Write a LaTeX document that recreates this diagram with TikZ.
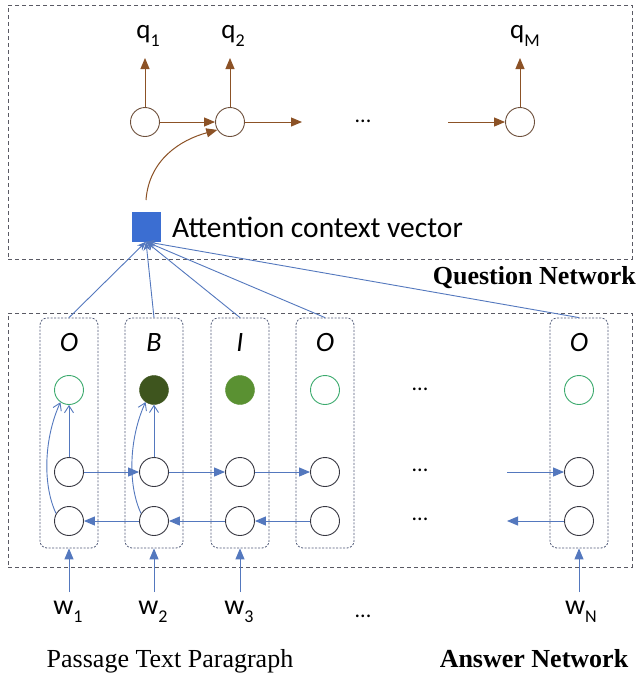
\documentclass[tikz,border=0pt]{standalone}
\usepackage{fontspec}
\setmainfont{Carlito}
\newfontfamily\tnr{Liberation Serif}
\usetikzlibrary{arrows.meta}
\definecolor{brownarr}{RGB}{140,82,38}
\definecolor{qcirc}{RGB}{110,80,60}
\definecolor{blueline}{RGB}{84,120,190}
\definecolor{bluesq}{RGB}{59,110,210}
\definecolor{greenring}{RGB}{60,170,110}
\definecolor{darkgreen}{RGB}{62,85,30}
\definecolor{midgreen}{RGB}{90,145,50}
\definecolor{hidgray}{RGB}{55,55,65}
\definecolor{dashgray}{RGB}{90,90,100}
\definecolor{colboxc}{RGB}{80,90,120}
\newcommand\mysub[1]{\raisebox{-0.3em}{\fontsize{18}{18}\selectfont #1}}
\begin{document}
\begin{tikzpicture}[x=1pt,y=-1pt,
  bigbox/.style={draw=dashgray, line width=0.9pt, dash pattern=on 4pt off 3pt, inner sep=0},
  colbox/.style={draw=colboxc, rounded corners=7pt, dash pattern=on 2pt off 1.5pt, line width=0.8pt, minimum width=58pt, minimum height=230pt, inner sep=0},
  qcell/.style={circle, draw=qcirc, line width=0.9pt, minimum size=29pt, inner sep=0},
  hcell/.style={circle, draw=hidgray, line width=0.9pt, minimum size=29pt, inner sep=0},
  ocell/.style={circle, draw=greenring, line width=0.9pt, minimum size=29pt, inner sep=0},
  barr/.style={draw=brownarr, line width=1pt, -{Triangle[length=11pt,width=9pt]}},
  harr/.style={draw=blueline, line width=1pt, -{Triangle[length=11pt,width=9pt]}},
  varr/.style={draw=blueline, line width=0.9pt, -{Straight Barb[length=7pt,width=9pt]}},
  attn/.style={draw=blueline, line width=0.9pt, -{Stealth[length=9pt,width=7pt]}},
  lbl/.style={font=\fontsize{27}{30}\selectfont, inner sep=0},
  tag/.style={font=\fontsize{28}{30}\selectfont\itshape, inner sep=0},
  dots/.style={font=\fontsize{22}{24}\selectfont, inner sep=0},
  captxt/.style={font=\tnr\fontsize{26}{28}\selectfont, inner sep=0},
  boldtxt/.style={font=\tnr\bfseries\fontsize{26}{28}\selectfont, inner sep=0}
]
\useasboundingbox (0,0) rectangle (644,673);
\fill[white] (0,0) rectangle (644,673);

% big dashed boxes
\node[bigbox, minimum width=624pt, minimum height=254pt] (qbox) at (320,132) {};
\node[bigbox, minimum width=624pt, minimum height=254pt] (abox) at (320,440) {};
\node[boldtxt, anchor=east] (qnet) at (636,278) {Question Network};

% question decoder
\node[qcell] (q1c) at (145,122) {};
\node[qcell] (q2c) at (230,122) {};
\node[qcell] (qMc) at (520,122) {};
\coordinate (t1) at (145,58);
\coordinate (t2) at (230,58);
\coordinate (tM) at (520,58);
\node[lbl] (q1) at (148,36) {q\mysub{1}};
\node[lbl] (q2) at (233,36) {q\mysub{2}};
\node[lbl] (qM) at (525,36) {q\mysub{M}};
\draw[barr] (q1c.north) -- (t1);
\draw[barr] (q2c.north) -- (t2);
\draw[barr] (qMc.north) -- (tM);
\draw[barr] (q1c.east) -- (q2c.west);
\coordinate (q2out) at (302,122);
\draw[barr] (q2c.east) -- (q2out);
\node[dots] (qdots) at (363,121) {...};
\coordinate (qMin) at (448,122);
\draw[barr] (qMin) -- (qMc.west);

% attention vector
\node[draw=bluesq, fill=bluesq, minimum width=28pt, minimum height=29pt, inner sep=0] (sq) at (146,227) {};
\node[font=\fontsize{29.5}{32}\selectfont, anchor=west, inner sep=0] (att) at (172,227) {Attention context vector};
\coordinate (s0) at (146,200);
\draw[barr] (s0) .. controls (149,160) and (180,140) .. (q2c.212);

% answer network columns
\foreach \i/\x in {1/69,2/154,3/240,4/325,5/579}{
  \node[colbox] (k\i) at (\x,433) {};
  \node[hcell] (f\i) at (\x,472) {};
  \node[hcell] (b\i) at (\x,521) {};
}
\node[tag] (tg1) at (69,343) {O};
\node[tag] (tg2) at (154,343) {B};
\node[tag] (tg3) at (240,343) {I};
\node[tag] (tg4) at (325,343) {O};
\node[tag] (tg5) at (579,343) {O};
\node[ocell] (g1) at (69,390) {};
\node[circle, draw=darkgreen, fill=darkgreen, minimum size=29pt, inner sep=0] (g2) at (154,390) {};
\node[circle, draw=midgreen, fill=midgreen, minimum size=29pt, inner sep=0] (g3) at (240,390) {};
\node[ocell] (g4) at (325,390) {};
\node[ocell] (g5) at (579,390) {};

% attention connectors
\foreach \i in {1,...,5}{ \draw[attn] (k\i.north) -- (sq.south); }

% output connectors
\foreach \i in {1,2}{
  \draw[varr] (f\i.north) -- (g\i.south);
  \draw[varr] (b\i.150) .. controls +(-14,-30) and +(-16,35) .. (g\i.235);
}

% recurrent connectors
\draw[harr] (f1.east) -- (f2.west);
\draw[harr] (f2.east) -- (f3.west);
\draw[harr] (f3.east) -- (f4.west);
\coordinate (fin) at (507,472);
\draw[harr] (fin) -- (f5.west);
\draw[harr] (b2.west) -- (b1.east);
\draw[harr] (b3.west) -- (b2.east);
\draw[harr] (b4.west) -- (b3.east);
\coordinate (bout) at (507,521);
\draw[harr] (b5.west) -- (bout);
\node[dots] (d1) at (420,389) {...};
\node[dots] (d2) at (420,470) {...};
\node[dots] (d3) at (420,519) {...};

% inputs
\foreach \i/\x in {1/69,2/154,3/240,5/579}{
  \coordinate (in\i) at (\x,592);
  \draw[harr] (in\i) -- (k\i.south);
}
\node[font=\fontsize{28}{30}\selectfont, inner sep=0] (w1) at (68,612) {w\mysub{1}};
\node[font=\fontsize{28}{30}\selectfont, inner sep=0] (w2) at (153,612) {w\mysub{2}};
\node[font=\fontsize{28}{30}\selectfont, inner sep=0] (w3) at (239,612) {w\mysub{3}};
\node[font=\fontsize{28}{30}\selectfont, inner sep=0] (wN) at (581,612) {w\mysub{N}};
\node[dots] (wd) at (363,616) {...};

\node[captxt, anchor=base] (ptp) at (170,667) {Passage Text Paragraph};
\node[boldtxt, anchor=base] (anet) at (534,667) {Answer Network};
\end{tikzpicture}
\end{document}
